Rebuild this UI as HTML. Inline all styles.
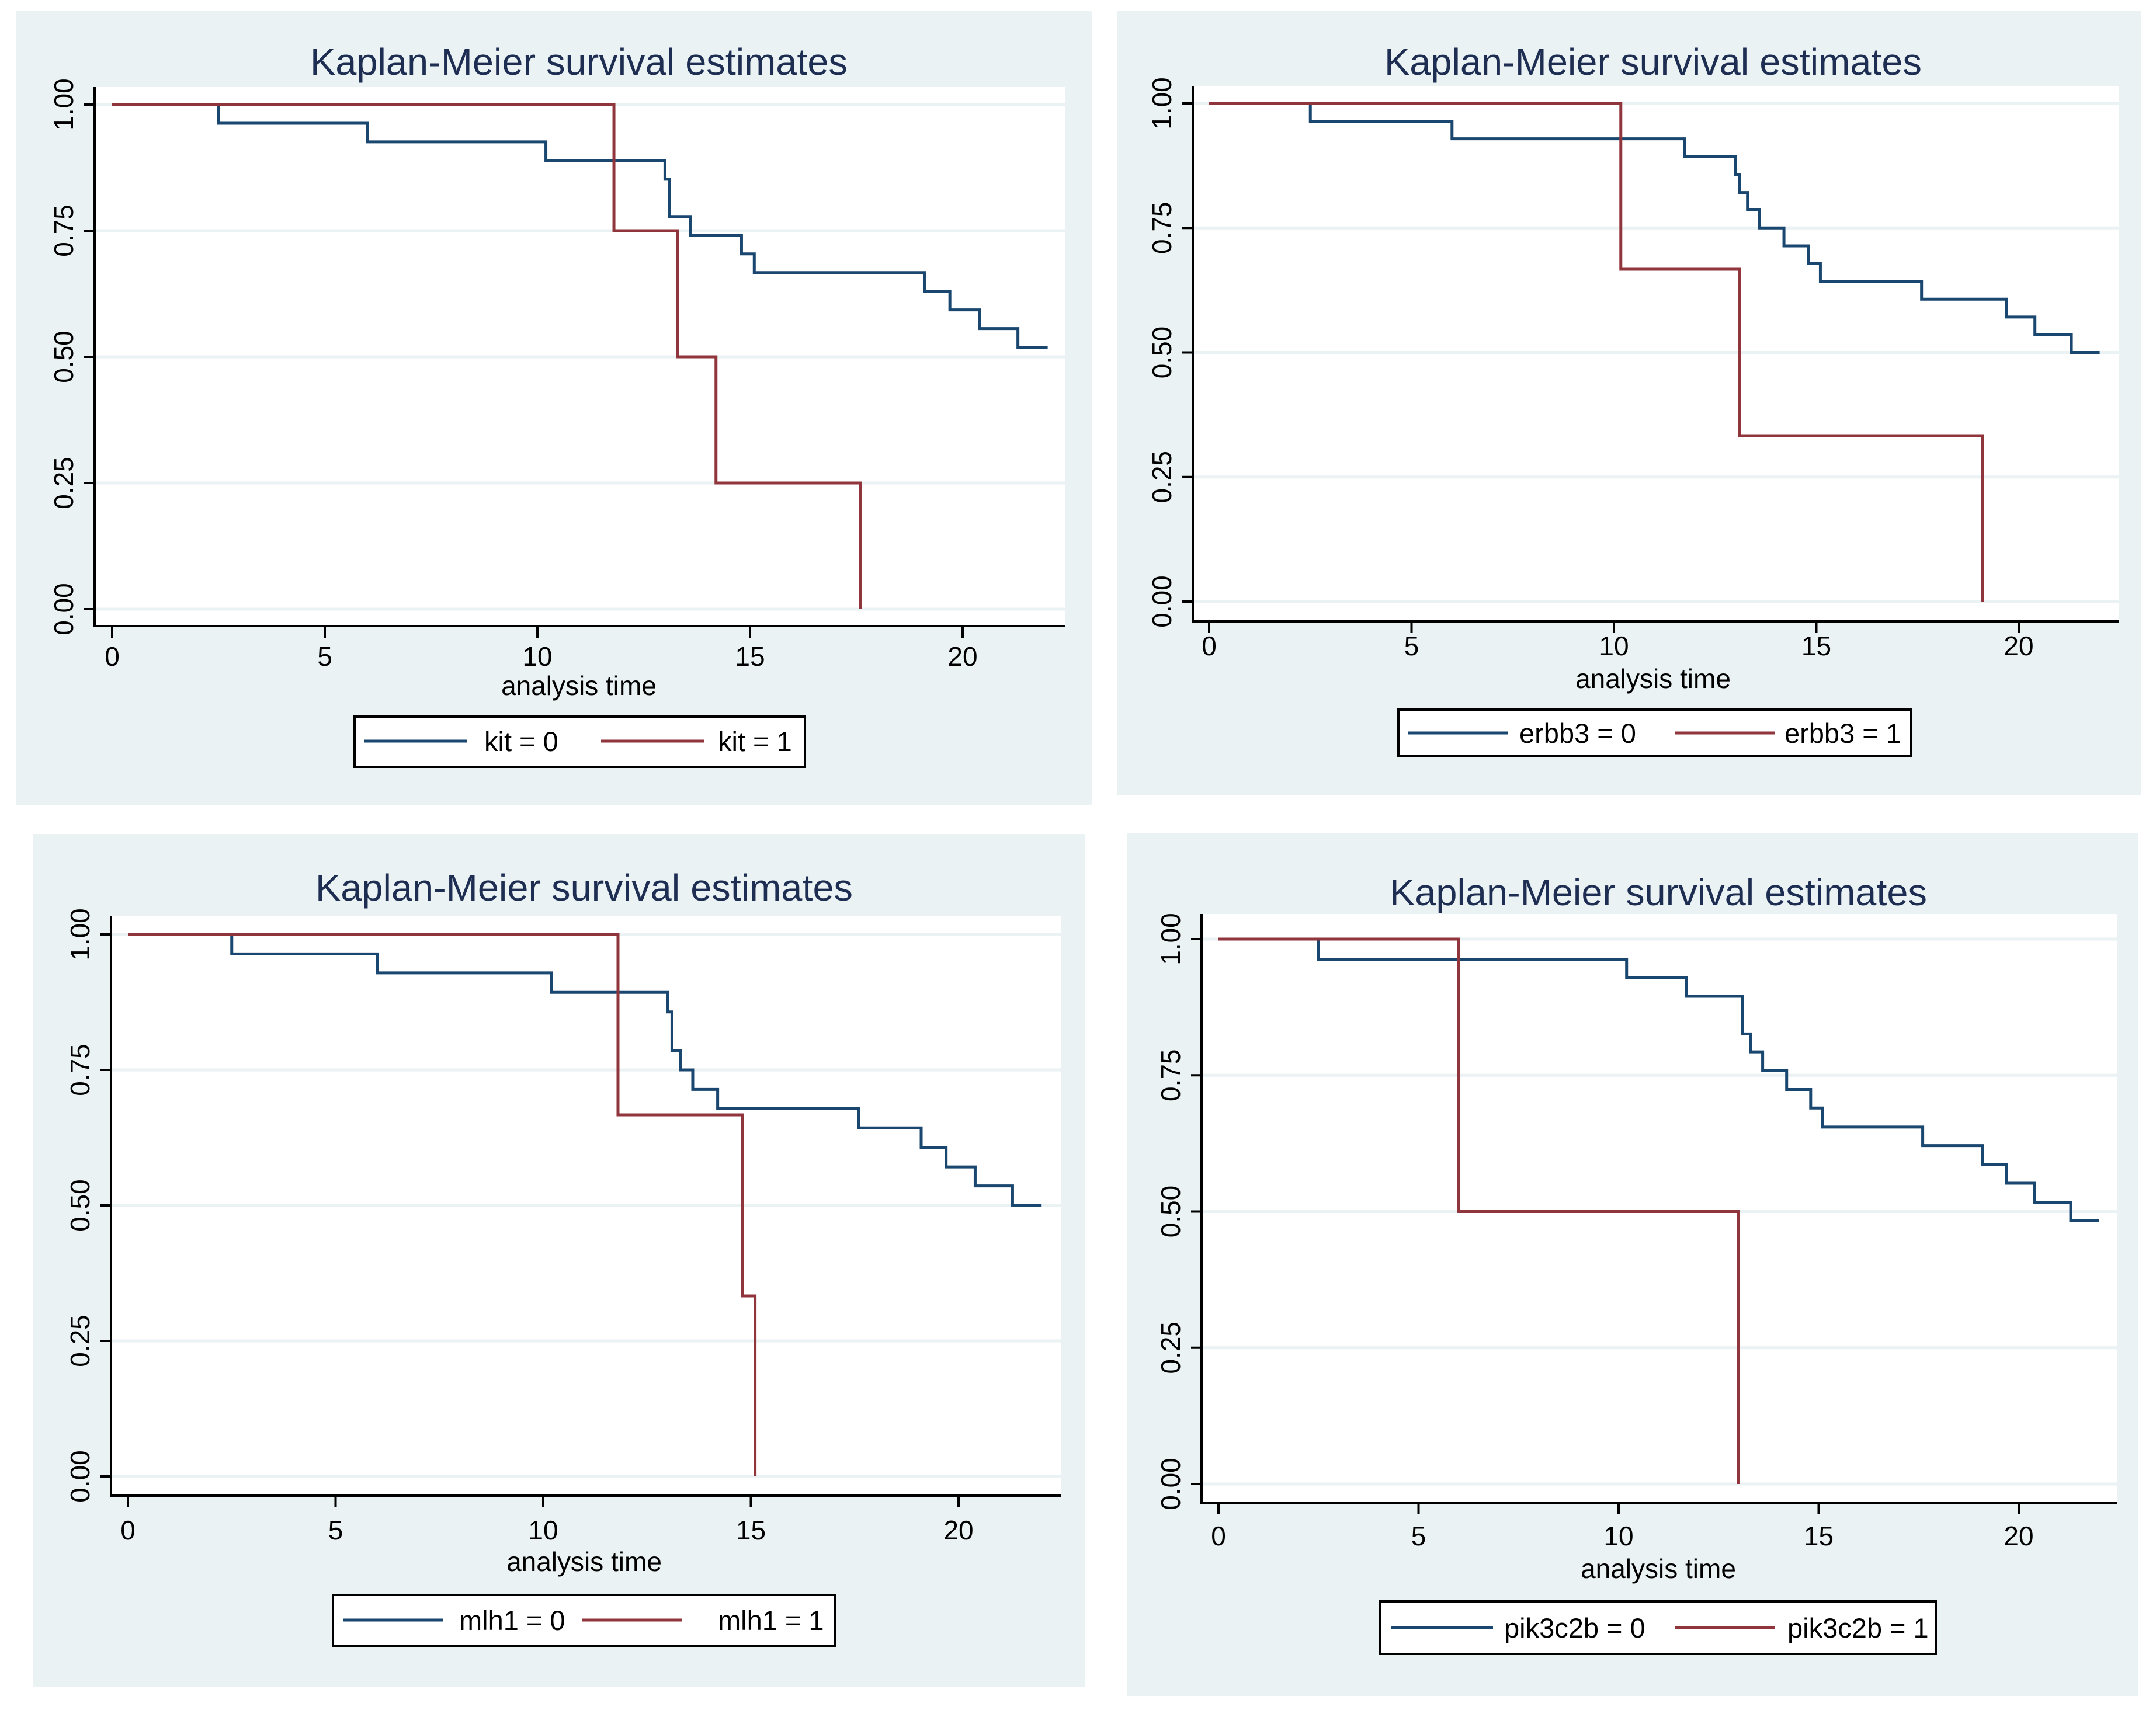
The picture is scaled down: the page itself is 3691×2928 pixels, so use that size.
<!DOCTYPE html>
<html><head><meta charset="utf-8">
<style>
html,body{margin:0;padding:0;background:#fff;}
svg{display:block;font-family:"Liberation Sans",Arial,sans-serif;}
</style></head>
<body>
<svg id="fig" width="3691" height="2928" viewBox="0 0 3691 2928" xmlns="http://www.w3.org/2000/svg"></svg>
<script>
// ---- data ----
const xTicks = [0, 5, 10, 15, 20];
const yTicks = [0, 0.25, 0.5, 0.75, 1];
const yTickLabels = ["0.00", "0.25", "0.50", "0.75", "1.00"];

const kitT0 = [0, 2.5, 6.0, 10.2, 13.0, 13.1, 13.6, 14.8, 15.1, 19.1, 19.7, 20.4, 21.3, 22.0];
const kitS0 = [1, 0.963, 0.926, 0.889, 0.852, 0.778, 0.741, 0.704, 0.667, 0.630, 0.593, 0.556, 0.519, 0.519];
const kitT1 = [0, 11.8, 13.3, 14.2, 17.6];
const kitS1 = [1, 0.75, 0.5, 0.25, 0];

const erbbT0 = [0, 2.5, 6.0, 11.75, 13.0, 13.1, 13.3, 13.6, 14.2, 14.8, 15.1, 17.6, 19.7, 20.4, 21.3, 22.0];
const erbbS0 = [1, 0.964, 0.929, 0.893, 0.857, 0.821, 0.786, 0.75, 0.714, 0.679, 0.643, 0.607, 0.571, 0.536, 0.5, 0.5];
const erbbT1 = [0, 10.17, 13.1, 19.1];
const erbbS1 = [1, 0.667, 0.333, 0];

const mlhT0 = [0, 2.5, 6.0, 10.2, 13.0, 13.1, 13.3, 13.6, 14.2, 17.6, 19.1, 19.7, 20.4, 21.3, 22.0];
const mlhS0 = [1, 0.964, 0.929, 0.893, 0.857, 0.786, 0.75, 0.714, 0.679, 0.643, 0.607, 0.571, 0.536, 0.5, 0.5];
const mlhT1 = [0, 11.8, 14.8, 15.1];
const mlhS1 = [1, 0.667, 0.333, 0];

const pikT0 = [0, 2.5, 10.2, 11.7, 13.1, 13.3, 13.6, 14.2, 14.8, 15.1, 17.6, 19.1, 19.7, 20.4, 21.3, 22.0];
const pikS0 = [1, 0.963, 0.929, 0.895, 0.826, 0.793, 0.759, 0.724, 0.690, 0.655, 0.621, 0.586, 0.552, 0.517, 0.483, 0.483];
const pikT1 = [0, 6.0, 13.0];
const pikS1 = [1, 0.5, 0];

const panelNames = ["kit", "erbb3", "mlh1", "pik3c2b"];

// ---- layout ----
const layouts = [
  {bg:[27,19,1869,1378], ax:162, axy:1072, x0:192, x20:1648, y0:1043, y1:179, top:149, right:1824,
   title:[991,128], tick:1140, atime:[991,1190], leg:[607,1227,1378,1313], l0:[624,800,829], l1:[1029,1205,1229], ly:1269},
  {bg:[1913,19,3665,1361], ax:2042, axy:1064, x0:2070, x20:3456, y0:1030, y1:177, top:147, right:3628,
   title:[2830,128], tick:1122, atime:[2830,1178], leg:[2394,1215,3272,1295], l0:[2410,2582,2601], l1:[2867,3039,3055], ly:1255},
  {bg:[57,1428,1857,2888], ax:190, axy:2561, x0:219, x20:1641, y0:2528, y1:1600, top:1568, right:1817,
   title:[1000,1542], tick:2636, atime:[1000,2690], leg:[570,2731,1429,2818], l0:[588,758,786], l1:[996,1168,1229], ly:2774},
  {bg:[1930,1427,3660,2904], ax:2057, axy:2573, x0:2086, x20:3456, y0:2541, y1:1608, top:1565, right:3625,
   title:[2839,1550], tick:2646, atime:[2839,2702], leg:[2363,2742,3314,2832], l0:[2382,2556,2575], l1:[2867,3039,3060], ly:2787}
];
const series = [[kitT0,kitS0,kitT1,kitS1],[erbbT0,erbbS0,erbbT1,erbbS1],[mlhT0,mlhS0,mlhT1,mlhS1],[pikT0,pikS0,pikT1,pikS1]];

const NS = "http://www.w3.org/2000/svg";
const svg = document.getElementById("fig");
function mk(tag, attrs, parent){ const e=document.createElementNS(NS,tag); for(const k in attrs) e.setAttribute(k,attrs[k]); (parent||svg).appendChild(e); return e; }

layouts.forEach((L, i) => {
  const nm = panelNames[i];
  const sx = t => L.x0 + (L.x20 - L.x0) * t / 20;
  const sy = v => L.y0 + (L.y1 - L.y0) * v;
  const g = mk("g", {});
  
  
  const bg = mk("rect", {x:L.bg[0], y:L.bg[1], width:L.bg[2]-L.bg[0], height:L.bg[3]-L.bg[1], fill:"#eaf2f3"}, g);
  
  
  const pa = mk("rect", {x:L.ax, y:L.top, width:L.right-L.ax, height:L.axy-L.top, fill:"#ffffff"}, g);
  
  
  // grid
  yTicks.forEach((v, k) => {
    const gl = mk("line", {x1:L.ax, x2:L.right, y1:sy(v), y2:sy(v), stroke:"#eaf2f3", "stroke-width":5}, g);
    
    
  });
  // title
  const t = mk("text", {x:L.title[0], y:L.title[1], "text-anchor":"middle", "font-size":64, fill:"#1e2d52", textLength:920, lengthAdjust:"spacingAndGlyphs"}, g);
  t.textContent = "Kaplan-Meier survival estimates";
  
  
  // series
  const cols = ["#1a476f", "#90353b"];
  [0,1].forEach(s => {
    const T = series[i][s*2], S = series[i][s*2+1];
    let d = "M" + sx(T[0]) + "," + sy(S[0]);
    for (let k = 1; k < T.length; k++) {
      d += " H" + sx(T[k]) + " V" + sy(S[k]);
    }
    const p = mk("path", {d:d, fill:"none", stroke:cols[s], "stroke-width":5, "stroke-linejoin":"miter"}, g);
    
    
  });
  // axes
  const ya = mk("line", {x1:L.ax, x2:L.ax, y1:L.top, y2:L.axy+2, stroke:"#000", "stroke-width":4}, g);
  
  
  const xa = mk("line", {x1:L.ax-2, x2:L.right, y1:L.axy, y2:L.axy, stroke:"#000", "stroke-width":4}, g);
  
  
  yTicks.forEach((v, k) => {
    const tk = mk("line", {x1:L.ax-18, x2:L.ax, y1:sy(v), y2:sy(v), stroke:"#000", "stroke-width":4}, g);
    
    
    const lx = L.ax - 37, ly = sy(v);
    const tl = mk("text", {x:lx, y:ly, transform:"rotate(-90 "+lx+" "+ly+")", "text-anchor":"middle", "font-size":46, fill:"#000"}, g);
    tl.textContent = yTickLabels[k];
    
    
  });
  xTicks.forEach(v => {
    const tk = mk("line", {x1:sx(v), x2:sx(v), y1:L.axy, y2:L.axy+20, stroke:"#000", "stroke-width":4}, g);
    
    
    const tl = mk("text", {x:sx(v), y:L.tick, "text-anchor":"middle", "font-size":46, fill:"#000"}, g);
    tl.textContent = String(v);
    
    
  });
  const at = mk("text", {x:L.atime[0], y:L.atime[1], "text-anchor":"middle", "font-size":46, fill:"#000"}, g);
  at.textContent = "analysis time";
  
  
  // legend
  const lg = mk("g", {}, g);
  
  
  const lb = mk("rect", {x:L.leg[0], y:L.leg[1], width:L.leg[2]-L.leg[0], height:L.leg[3]-L.leg[1], fill:"#fff", stroke:"#000", "stroke-width":4}, lg);
  
  
  [L.l0, L.l1].forEach((e, s) => {
    const ll = mk("line", {x1:e[0], x2:e[1], y1:L.ly, y2:L.ly, stroke:cols[s], "stroke-width":5}, lg);
    
    
    const lt = mk("text", {x:e[2], y:L.ly+17, "font-size":47, fill:"#000"}, lg);
    lt.textContent = nm + " = " + s;
    
    
  });
});
</script>
</body></html>
